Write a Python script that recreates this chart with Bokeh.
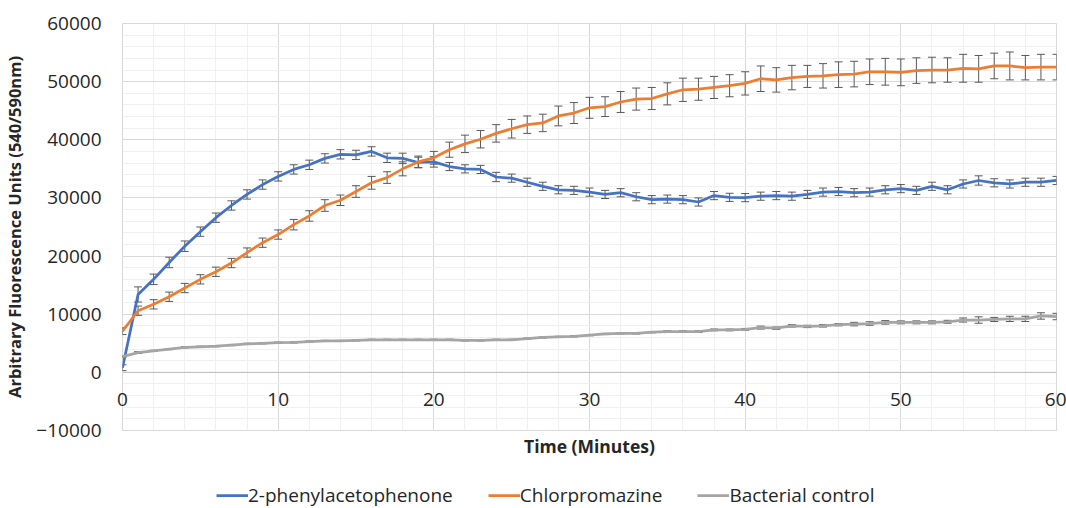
from bokeh.plotting import figure
from bokeh.layouts import column
from bokeh.models import (ColumnDataSource, Whisker, TeeHead, Legend, LegendItem, Span,
                          SingleIntervalTicker, Range1d, BasicTickFormatter)
from bokeh.embed import file_html
from bokeh.resources import INLINE

time_min = list(range(61))

phenyl = [800, 13400, 16000, 18900, 21700, 24200, 26600, 28700, 30600, 32300,
          33700, 34900, 35700, 36800, 37500, 37400, 38000, 36900, 36800, 36100,
          36200, 35400, 35000, 34900, 33600, 33400, 32700, 32000, 31400, 31300,
          31000, 30600, 30900, 30200, 29700, 29800, 29700, 29300, 30400, 30100,
          30050, 30300, 30400, 30300, 30600, 31000, 31100, 30900, 31000, 31400,
          31600, 31300, 32000, 31400, 32400, 33000, 32600, 32400, 32700, 32700,
          33000]
phenyl_err = [500, 1300, 900, 900, 900, 800, 800, 800, 800, 800,
              800, 800, 800, 800, 800, 800, 800, 800, 900, 900,
              900, 700, 700, 700, 800, 700, 700, 700, 700, 700,
              700, 700, 700, 700, 700, 700, 700, 700, 700, 700,
              700, 700, 700, 700, 700, 700, 700, 700, 700, 700,
              700, 700, 700, 700, 700, 800, 700, 700, 700, 700,
              700]

chlor = [7100, 10600, 11700, 13000, 14500, 16000, 17300, 18800, 20600, 22300,
         23700, 25400, 26900, 28700, 29600, 31100, 32600, 33500, 35000, 36200,
         36900, 38300, 39300, 40100, 41100, 41900, 42600, 42900, 44100, 44600,
         45500, 45700, 46500, 47000, 47100, 47900, 48600, 48700, 49000, 49300,
         49700, 50500, 50300, 50700, 50900, 51000, 51200, 51300, 51700, 51700,
         51600, 51900, 52000, 52000, 52300, 52200, 52700, 52700, 52400, 52500,
         52500]
chlor_err = [600, 800, 800, 800, 800, 800, 800, 800, 800, 800,
             800, 900, 900, 1000, 900, 1000, 1100, 1000, 1200, 1000,
             1100, 1300, 1500, 1500, 1500, 1600, 1500, 1500, 1700, 1800,
             1800, 1700, 1800, 1900, 1900, 1900, 2000, 1900, 1900, 1900,
             2000, 2200, 2100, 2100, 1900, 2100, 2200, 2200, 2200, 2300,
             2300, 2200, 2200, 2100, 2400, 2300, 2200, 2400, 2100, 2200,
             2200]

control = [2700, 3400, 3700, 4000, 4300, 4400, 4500, 4700, 4900, 5000,
           5100, 5150, 5300, 5400, 5400, 5500, 5600, 5600, 5600, 5600,
           5600, 5600, 5500, 5500, 5600, 5600, 5800, 6000, 6100, 6200,
           6400, 6600, 6700, 6700, 6900, 7000, 7000, 7000, 7300, 7300,
           7400, 7700, 7600, 8000, 7900, 8000, 8200, 8300, 8400, 8600,
           8600, 8600, 8600, 8700, 9000, 9000, 9100, 9200, 9200, 9700,
           9600]
control_err = [100, 150, 100, 100, 100, 100, 100, 100, 100, 100,
               100, 100, 100, 100, 100, 100, 100, 100, 100, 100,
               100, 100, 100, 100, 100, 100, 100, 100, 100, 100,
               100, 100, 100, 100, 100, 150, 150, 150, 150, 150,
               150, 250, 200, 200, 200, 200, 200, 300, 300, 300,
               250, 250, 250, 250, 350, 550, 350, 450, 450, 550,
               550]

series_names = ["2-phenylacetophenone", "Chlorpromazine", "Bacterial control"]
series_values = [phenyl, chlor, control]
series_errors = [phenyl_err, chlor_err, control_err]
series_colors = ["#4472C4", "#ED7D31", "#A5A5A5"]

y_ticks_interval = 10000
x_ticks_interval = 10

FONT = "Open Sans"
TXT = "#262626"

p = figure(width=1066, height=462, x_range=Range1d(0, 60), y_range=Range1d(-10000, 60000),
           output_backend="svg", toolbar_location=None,
           min_border_left=119, min_border_right=10, min_border_top=23, min_border_bottom=32)
p.background_fill_color = "white"
p.border_fill_color = "white"
p.outline_line_color = "#D9D9D9"
p.outline_line_width = 1

# axes
p.xaxis.ticker = SingleIntervalTicker(interval=x_ticks_interval, num_minor_ticks=5)
p.yaxis.ticker = SingleIntervalTicker(interval=y_ticks_interval, num_minor_ticks=5)
p.yaxis.formatter = BasicTickFormatter(use_scientific=False)
for ax in (p.xaxis, p.yaxis):
    ax.major_tick_in = 0
    ax.major_tick_out = 0
    ax.minor_tick_in = 0
    ax.minor_tick_out = 0
    ax.axis_line_color = None
    ax.major_label_text_font = FONT
    ax.major_label_text_font_size = "19px"
    ax.major_label_text_color = TXT
# x tick labels sit just under the zero line, as in the original
p.xaxis.major_label_standoff = -38
p.xaxis.axis_label = "Time (Minutes)"
p.xaxis.axis_label_text_font = FONT
p.xaxis.axis_label_text_font_size = "17.5px"
p.xaxis.axis_label_text_font_style = "bold"
p.xaxis.axis_label_text_color = TXT
p.xaxis.axis_label_standoff = 25

p.yaxis.major_label_standoff = 21
p.yaxis.axis_label = "Arbitrary Fluorescence Units (540/590nm)"
p.yaxis.axis_label_text_font = FONT
p.yaxis.axis_label_text_font_size = "16.5px"
p.yaxis.axis_label_text_font_style = "bold"
p.yaxis.axis_label_text_color = TXT
p.yaxis.axis_label_standoff = 7

# horizontal axis line at y = 0
p.add_layout(Span(location=0, dimension="width", line_color="#BFBFBF", line_width=1))

# grids
p.xgrid.grid_line_color = "#D9D9D9"
p.ygrid.grid_line_color = "#D9D9D9"
p.xgrid.minor_grid_line_color = "#F0F0F0"
p.ygrid.minor_grid_line_color = "#F0F0F0"

# legend strip (separate figure below the chart)
leg = figure(width=1066, height=46, x_range=Range1d(0, 1), y_range=Range1d(0, 1),
             output_backend="svg", toolbar_location=None,
             min_border_left=0, min_border_right=0, min_border_top=0, min_border_bottom=0)
leg.axis.visible = False
leg.grid.visible = False
leg.outline_line_color = None
leg.background_fill_color = "white"
leg.border_fill_color = "white"

items = []
whiskers = []
for name, vals, errs, col in zip(series_names, series_values, series_errors, series_colors):
    src = ColumnDataSource(dict(
        x=time_min, y=vals,
        upper=[v + e for v, e in zip(vals, errs)],
        lower=[v - e for v, e in zip(vals, errs)],
    ))
    p.line("x", "y", source=src, line_color=col, line_width=2.75, line_join="round")
    w = Whisker(source=src, base="x", upper="upper", lower="lower",
                line_color="#595959", line_width=1,
                upper_head=TeeHead(size=8, line_color="#595959", line_width=1),
                lower_head=TeeHead(size=8, line_color="#595959", line_width=1))
    whiskers.append(w)
    # same series in the legend strip; its ranges keep the line itself out of view
    lr = leg.line("x", "y", source=src, line_color=col, line_width=2.75)
    items.append(LegendItem(label=name, renderers=[lr]))
for w in whiskers:
    p.add_layout(w)

legend = Legend(items=items, orientation="horizontal", location=(94, 0),
                glyph_width=32, glyph_height=20, label_standoff=0, spacing=35,
                label_text_font=FONT, label_text_font_size="19px", label_text_color=TXT,
                border_line_color=None, background_fill_alpha=0, padding=0, margin=0)
leg.add_layout(legend, "center")

layout = column(p, leg, spacing=0)
open("out.html", "w").write(file_html(layout, INLINE))
